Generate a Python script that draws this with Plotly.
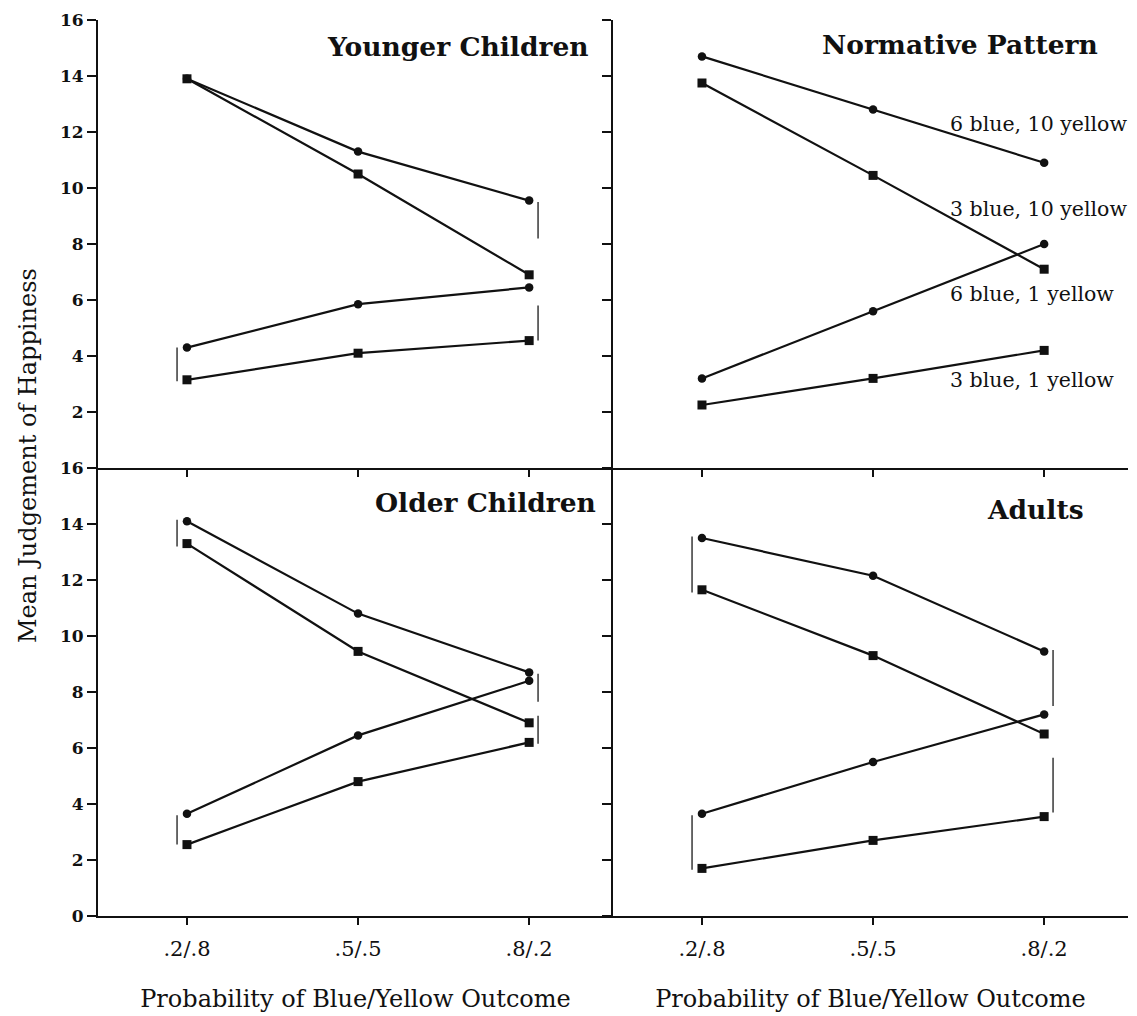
import plotly.graph_objects as go

# Outcome probabilities on the x axis
categories = [".2/.8", ".5/.5", ".8/.2"]

# Series labels (blue payoff, yellow payoff)
series_names = ["6 blue, 10 yellow", "3 blue, 10 yellow", "6 blue, 1 yellow", "3 blue, 1 yellow"]
series_symbols = ["circle", "square", "circle", "square"]

# Mean judgement of happiness per group
younger_6b10y = [13.9, 11.3, 9.55]
younger_3b10y = [13.9, 10.5, 6.9]
younger_6b1y = [4.3, 5.85, 6.45]
younger_3b1y = [3.15, 4.1, 4.55]

normative_6b10y = [14.7, 12.8, 10.9]
normative_3b10y = [13.75, 10.45, 7.1]
normative_6b1y = [3.2, 5.6, 8.0]
normative_3b1y = [2.25, 3.2, 4.2]

older_6b10y = [14.1, 10.8, 8.7]
older_3b10y = [13.3, 9.45, 6.9]
older_6b1y = [3.65, 6.45, 8.4]
older_3b1y = [2.55, 4.8, 6.2]

adults_6b10y = [13.5, 12.15, 9.45]
adults_3b10y = [11.65, 9.3, 6.5]
adults_6b1y = [3.65, 5.5, 7.2]
adults_3b1y = [1.7, 2.7, 3.55]

# Difference bars: (category index, low, high)
younger_bars = [(0, 3.1, 4.3), (2, 8.2, 9.5), (2, 4.55, 5.8)]
normative_bars = []
older_bars = [(0, 13.2, 14.15), (0, 2.55, 3.6), (2, 7.65, 8.65), (2, 6.15, 7.15)]
adults_bars = [(0, 11.55, 13.55), (0, 1.65, 3.6), (2, 7.5, 9.5), (2, 3.7, 5.65)]

panel_titles = ["Younger Children", "Normative Pattern", "Older Children", "Adults"]

panels = [
    ("x", "y", [younger_6b10y, younger_3b10y, younger_6b1y, younger_3b1y], younger_bars),
    ("x2", "y2", [normative_6b10y, normative_3b10y, normative_6b1y, normative_3b1y], normative_bars),
    ("x3", "y3", [older_6b10y, older_3b10y, older_6b1y, older_3b1y], older_bars),
    ("x4", "y4", [adults_6b10y, adults_3b10y, adults_6b1y, adults_3b1y], adults_bars),
]

INK = "#111111"
SERIF = "DejaVu Serif"
xs = list(range(len(categories)))

fig = go.Figure()
for xa, ya, series, bars in panels:
    for name, sym, vals in zip(series_names, series_symbols, series):
        fig.add_trace(go.Scatter(
            x=xs, y=vals, mode="lines+markers", name=name, xaxis=xa, yaxis=ya,
            line=dict(color=INK, width=2.2),
            marker=dict(symbol=sym, size=9 if sym == "square" else 8.5, color=INK),
            showlegend=False, hoverinfo="skip",
        ))
    for cat, lo, hi in bars:
        off = -0.058 if cat == 0 else 0.052
        fig.add_trace(go.Scatter(
            x=[cat + off, cat + off], y=[lo, hi], mode="lines", xaxis=xa, yaxis=ya,
            line=dict(color="#444444", width=1.6), showlegend=False, hoverinfo="skip",
        ))

xcommon = dict(range=[-0.52, 2.49], tickvals=xs, ticktext=categories, showgrid=False,
               zeroline=False, showline=True, linewidth=2, linecolor=INK,
               ticks="outside", ticklen=7, tickwidth=1.5, tickcolor=INK,
               ticklabelstandoff=6,
               tickfont=dict(family=SERIF, size=21, color=INK))
ycommon = dict(range=[0, 16], showgrid=False, zeroline=False, showline=True,
               linewidth=2, linecolor=INK, ticks="outside", ticklen=9, tickwidth=1.5,
               tickcolor=INK, tickfont=dict(family=SERIF, size=17, color=INK, weight="bold"))
xtitle = dict(text="Probability of Blue/Yellow Outcome",
              font=dict(family=SERIF, size=24, color=INK), standoff=30)

fig.update_layout(
    width=1137, height=1016,
    margin=dict(l=98, r=9, t=20, b=100),
    paper_bgcolor="white", plot_bgcolor="white",
    showlegend=False,
    xaxis=dict(xcommon, domain=[0, 0.5], anchor="y", showticklabels=False),
    xaxis2=dict(xcommon, domain=[0.5, 1], anchor="y2", showticklabels=False),
    xaxis3=dict(xcommon, domain=[0, 0.5], anchor="y3", title=xtitle),
    xaxis4=dict(xcommon, domain=[0.5, 1], anchor="y4", title=xtitle),
    yaxis=dict(ycommon, domain=[0.5, 1], anchor="x", tickvals=list(range(2, 17, 2))),
    yaxis2=dict(ycommon, domain=[0.5, 1], anchor="x2", tickvals=list(range(2, 17, 2)), showticklabels=False),
    yaxis3=dict(ycommon, domain=[0, 0.5], anchor="x3", tickvals=list(range(0, 17, 2))),
    yaxis4=dict(ycommon, domain=[0, 0.5], anchor="x4", tickvals=list(range(0, 17, 2)), showticklabels=False),
)

# Panel titles, right-aligned in each panel's upper corner
title_pos = [("x", "y", 0.957, 0.94), ("x2", "y2", 0.946, 0.946),
             ("x3", "y3", 0.971, 0.924), ("x4", "y4", 0.919, 0.908)]
for (xa, ya, px, py), text in zip(title_pos, panel_titles):
    fig.add_annotation(text=text, xref=f"{xa} domain", yref=f"{ya} domain", x=px, y=py,
                       xanchor="right", yanchor="middle", showarrow=False,
                       font=dict(family=SERIF, size=26.5, color=INK, weight="bold"))

# Series labels beside the normative lines
label_y = [12.3, 9.25, 6.23, 3.15]
for name, ly in zip(series_names, label_y):
    fig.add_annotation(text=name, xref="x2", yref="y2", x=1.44, y=ly, xanchor="left",
                       yanchor="middle", showarrow=False,
                       font=dict(family=SERIF, size=20.5, color=INK))

# Shared y-axis title
fig.add_annotation(text="Mean Judgement of Happiness", xref="paper", yref="paper",
                   x=-0.068, y=0.5145, xanchor="center", yanchor="middle", textangle=-90,
                   showarrow=False, font=dict(family=SERIF, size=24, color=INK))

fig.write_html("out.html")
